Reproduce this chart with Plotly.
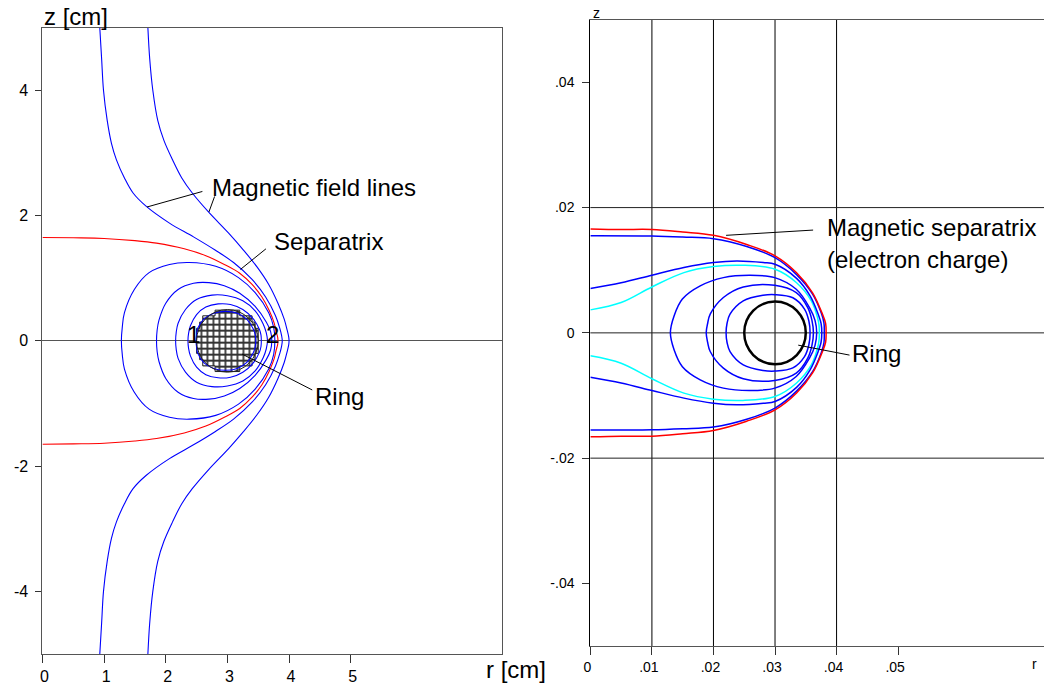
import plotly.graph_objects as go

# ---------------- Left panel data (r, z in cm); upper halves, lower half is the mirror image ----------------
sep_r = [0, 0.5, 1.0, 1.5, 1.85, 2.3, 2.65, 2.95, 3.2, 3.4, 3.56, 3.68, 3.76, 3.79, 3.815, 3.82]
sep_z = [1.65, 1.645, 1.635, 1.6, 1.56, 1.47, 1.36, 1.22, 1.08, 0.9, 0.7, 0.48, 0.28, 0.15, 0.06, 0]

open1_r = [0.93, 0.96, 0.99, 1.05, 1.12, 1.20, 1.33, 1.47, 1.68, 2.06, 2.45, 2.8, 3.1, 3.4, 3.62, 3.78, 3.85, 3.88, 3.89]
open1_z = [5.0, 4.5, 4.0, 3.52, 3.15, 2.89, 2.6, 2.36, 2.15, 1.88, 1.66, 1.45, 1.25, 0.98, 0.7, 0.4, 0.2, 0.08, 0]

open2_r = [1.71, 1.74, 1.79, 1.87, 1.97, 2.11, 2.26, 2.43, 2.70, 3.02, 3.26, 3.48, 3.67, 3.82, 3.92, 3.97, 3.995, 4.0]
open2_z = [5.0, 4.5, 4.0, 3.52, 3.2, 2.89, 2.6, 2.36, 2.05, 1.72, 1.45, 1.18, 0.9, 0.6, 0.35, 0.17, 0.06, 0]

loopA_r = [1.28, 1.295, 1.33, 1.49, 1.73, 2.06, 2.38, 2.81, 3.18, 3.45, 3.67, 3.75, 3.77]
loopA_z = [0, 0.22, 0.45, 0.82, 1.09, 1.22, 1.25, 1.19, 1.01, 0.77, 0.45, 0.22, 0]
loopB_r = [1.85, 1.86, 1.89, 2.0, 2.2, 2.45, 2.7, 2.95, 3.2, 3.45, 3.63, 3.70, 3.72]
loopB_z = [0, 0.17, 0.33, 0.6, 0.82, 0.92, 0.93, 0.88, 0.76, 0.55, 0.3, 0.15, 0]
loopC_r = [2.16, 2.17, 2.2, 2.32, 2.5, 2.75, 3.0, 3.25, 3.45, 3.58, 3.63, 3.65]
loopC_z = [0, 0.14, 0.28, 0.5, 0.66, 0.73, 0.72, 0.64, 0.48, 0.27, 0.13, 0]
loopD_r = [2.36, 2.37, 2.4, 2.5, 2.65, 2.85, 3.05, 3.25, 3.42, 3.52, 3.545, 3.55]
loopD_z = [0, 0.12, 0.24, 0.42, 0.54, 0.59, 0.58, 0.5, 0.35, 0.18, 0.09, 0]
loopE_r = [2.49, 2.50, 2.52, 2.62, 2.78, 2.97, 3.16, 3.32, 3.42, 3.45, 3.46]
loopE_z = [0, 0.1, 0.2, 0.35, 0.44, 0.47, 0.44, 0.34, 0.19, 0.1, 0]

# stepped outline of the meshed ring cross-section (upper half)
disk_r = [3.5, 3.5, 3.45, 3.45, 3.4, 3.4, 3.2, 3.2, 2.8, 2.8, 2.6, 2.6, 2.55, 2.55, 2.5, 2.5]
disk_z = [0, 0.2, 0.2, 0.3, 0.3, 0.4, 0.4, 0.49, 0.49, 0.4, 0.4, 0.3, 0.3, 0.2, 0.2, 0]
ring_center_r, ring_radius = 3.0, 0.5

left_xticks = [0, 1, 2, 3, 4, 5]
left_yticks = [-4, -2, 0, 2, 4]
left_yticktext = ["-4", "-2", "0", "2", "4"]

# ---------------- Right panel data (r, z in m); upper halves ----------------
red2_r = [0, 0.005, 0.01, 0.015, 0.02, 0.0254, 0.03, 0.0335, 0.0361, 0.0377, 0.03822, 0.0383]
red2_z = [0.0166, 0.0165, 0.0165, 0.0161, 0.01557, 0.0141, 0.0123, 0.0096, 0.0064, 0.003, 0.0015, 0]
s2_r = [0, 0.01, 0.015, 0.02, 0.0254, 0.03, 0.0335, 0.0361, 0.0375, 0.03795, 0.0380]
s2_z = [0.01552, 0.01547, 0.0153, 0.01504, 0.0138, 0.0120, 0.0093, 0.0062, 0.0032, 0.0016, 0]
b1_r = [0, 0.005, 0.01, 0.0152, 0.02, 0.0238, 0.0281, 0.03, 0.0335, 0.0357, 0.0370, 0.03748, 0.0376]
b1_z = [0.0071, 0.0080, 0.0092, 0.01042, 0.01122, 0.01147, 0.01122, 0.01095, 0.0087, 0.0059, 0.003, 0.0015, 0]
cyan_r = [0, 0.005, 0.01, 0.0152, 0.02, 0.0248, 0.03, 0.0335, 0.0359, 0.0369, 0.03715, 0.0372]
cyan_z = [0.00367, 0.00484, 0.00733, 0.00962, 0.01058, 0.01079, 0.01015, 0.0080, 0.0051, 0.00245, 0.0012, 0]
L2_r = [0.0130, 0.0136, 0.01495, 0.01785, 0.02161, 0.02592, 0.02995, 0.03345, 0.0356, 0.0365, 0.03677]
L2_z = [0, 0.0027, 0.0054, 0.0075, 0.00882, 0.0092, 0.00882, 0.00696, 0.00404, 0.002, 0]
L3_r = [0.01882, 0.01905, 0.01947, 0.02161, 0.02484, 0.02995, 0.03345, 0.03532, 0.0360, 0.03624]
L3_z = [0, 0.0015, 0.00298, 0.00564, 0.00733, 0.0076, 0.00643, 0.00404, 0.002, 0]
L4_r = [0.02205, 0.0222, 0.02269, 0.02484, 0.02806, 0.03, 0.0329, 0.03479, 0.0355, 0.0357]
L4_z = [0, 0.0015, 0.00298, 0.0051, 0.006, 0.0061, 0.0056, 0.0038, 0.0019, 0]
ring2_r, ring2_radius = 0.03, 0.005

right_xticks = [0, 0.01, 0.02, 0.03, 0.04, 0.05]
right_xticktext = ["0", ".01", ".02", ".03", ".04", ".05"]
right_yticks = [-0.04, -0.02, 0, 0.02, 0.04]
right_yticktext = ["-.04", "-.02", "0", ".02", ".04"]
right_grid_r = [0.01, 0.02, 0.03, 0.04]
right_grid_z = [-0.02, 0, 0.02]


def mirror(r, z):
    """append the mirror image (z -> -z) of an upper half curve ending at z=0"""
    rr = list(r) + list(r[::-1][1:])
    zz = list(z) + [-v for v in z[::-1][1:]]
    return rr, zz


FONT = "Liberation Sans, Arial, Helvetica, sans-serif"
BLUE = "#0000ff"
fig = go.Figure()


def add_curve(r, z, color, width, xa="x", ya="y"):
    rr, zz = mirror(r, z)
    fig.add_trace(go.Scatter(x=rr, y=zz, mode="lines", xaxis=xa, yaxis=ya,
                             line=dict(color=color, width=width, shape="spline", smoothing=1.0),
                             hoverinfo="skip"))


# left panel disk (meshed)
dr, dz = mirror(disk_r, disk_z)
fig.add_trace(go.Scatter(x=dr, y=dz, mode="lines", fill="toself", xaxis="x", yaxis="y",
                         line=dict(color="#222", width=1),
                         fillcolor="white",
                         fillpattern=dict(shape="+", size=6, solidity=0.5, fgcolor="#333",
                                          bgcolor="white", fgopacity=1),
                         hoverinfo="skip"))

for r, z in [(loopA_r, loopA_z), (loopB_r, loopB_z), (loopC_r, loopC_z), (loopD_r, loopD_z), (loopE_r, loopE_z)]:
    add_curve(r, z, BLUE, 1.1)
add_curve(sep_r, sep_z, "#ff0000", 1.1)
add_curve(open1_r, open1_z, BLUE, 1.1)
add_curve(open2_r, open2_z, BLUE, 1.1)

# right panel
for r, z in [(L4_r, L4_z), (L3_r, L3_z), (L2_r, L2_z)]:
    add_curve(r, z, BLUE, 1.5, "x2", "y2")
add_curve(cyan_r, cyan_z, "#00ffff", 1.5, "x2", "y2")
add_curve(b1_r, b1_z, BLUE, 1.5, "x2", "y2")
add_curve(s2_r, s2_z, BLUE, 1.5, "x2", "y2")
add_curve(red2_r, red2_z, "#ff0000", 1.5, "x2", "y2")

shapes = []
# disk outline circle (left)
shapes.append(dict(type="circle", xref="x", yref="y",
                   x0=ring_center_r - ring_radius, x1=ring_center_r + ring_radius,
                   y0=-ring_radius, y1=ring_radius, line=dict(color="#222", width=1)))
# ring (right)
shapes.append(dict(type="circle", xref="x2", yref="y2",
                   x0=ring2_r - ring2_radius, x1=ring2_r + ring2_radius,
                   y0=-ring2_radius, y1=ring2_radius, line=dict(color="black", width=2.5)))
# grid of right panel
for g in right_grid_r:
    shapes.append(dict(type="line", xref="x2", yref="y2 domain", x0=g, x1=g, y0=0, y1=1,
                       line=dict(color="black", width=1), layer="below"))
for g in right_grid_z:
    shapes.append(dict(type="line", xref="x2 domain", yref="y2", x0=0, x1=1, y0=g, y1=g,
                       line=dict(color="#222", width=1), layer="below"))

# leader lines (annotation pointers)
leaders_left = [((2.594, 2.385), (1.696, 2.137)), ((2.792, 2.305), (2.70, 2.057)),
                ((3.625, 1.469), (3.211, 1.14)), ((4.376, -0.784), (3.238, -0.211))]
for (a, b) in leaders_left:
    shapes.append(dict(type="line", xref="x", yref="y", x0=a[0], y0=a[1], x1=b[0], y1=b[1],
                       line=dict(color="black", width=1)))
leaders_right = [((0.03619, 0.01641), (0.02205, 0.01557)), ((0.0421, -0.00355), (0.03377, -0.00196))]
for (a, b) in leaders_right:
    shapes.append(dict(type="line", xref="x2", yref="y2", x0=a[0], y0=a[1], x1=b[0], y1=b[1],
                       line=dict(color="black", width=1)))

ann = []


def txt(x, y, s, size, xref, yref, xanchor="left"):
    ann.append(dict(x=x, y=y, xref=xref, yref=yref, text=s, showarrow=False,
                    xanchor=xanchor, yanchor="middle", font=dict(family=FONT, size=size, color="black")))


txt(2.71, 2.444, "Magnetic field lines", 24, "x", "y")
txt(3.72, 1.59, "Separatrix", 24, "x", "y")
txt(4.39, -0.895, "Ring", 24, "x", "y")
txt(2.455, 0.10, "1", 24, "x", "y", "center")
txt(3.734, 0.10, "2", 24, "x", "y", "center")
txt(0.03806, 0.0168, "Magnetic separatrix", 24, "x2", "y2")
txt(0.03806, 0.01174, "(electron charge)", 24, "x2", "y2")
txt(0.04226, -0.00324, "Ring", 24, "x2", "y2")
# axis titles
txt(35 / 1044, 1 - 17 / 685, "z [cm]", 24, "paper", "paper")
txt(480 / 1044, 1 - 670 / 685, "r [cm]", 24, "paper", "paper")
txt(588 / 1044, 1 - 13 / 685, "z", 14, "paper", "paper")
txt(1030 / 1044, 1 - 665 / 685, "r", 14, "paper", "paper")

axis_common = dict(showgrid=False, ticks="outside", tickcolor="#333", showline=True,
                   linecolor="#555", linewidth=1.2, tickfont=dict(family=FONT, size=16, color="black"),
                   fixedrange=True)

fig.update_layout(
    width=1044, height=685, margin=dict(l=0, r=0, t=0, b=0),
    paper_bgcolor="white", plot_bgcolor="white", showlegend=False,
    shapes=shapes, annotations=ann,
    xaxis=dict(axis_common, domain=[35.7 / 1044, 498.7 / 1044], range=[0, 7.46], anchor="y",
               tickvals=left_xticks, ticklen=8, mirror=True, zeroline=False, ticklabelshift=2),
    yaxis=dict(axis_common, domain=[1 - 655 / 685, 1 - 27.7 / 685], range=[-5, 5], anchor="x",
               tickvals=left_yticks, ticktext=left_yticktext, ticklen=6, mirror=True, zeroline=True,
               zerolinecolor="#555", zerolinewidth=1.2, ticklabelstandoff=4),
    xaxis2=dict(axis_common, domain=[587.3 / 1044, 1.0], range=[0, 0.0737], anchor="y2",
                tickvals=right_xticks, ticktext=right_xticktext, ticklen=8, mirror=True, zeroline=False,
                ticklabelshift=-3, tickfont=dict(family=FONT, size=14, color="black")),
    yaxis2=dict(axis_common, domain=[1 - 647 / 685, 1 - 19.7 / 685], range=[-0.05, 0.05], anchor="x2",
                tickvals=right_yticks, ticktext=right_yticktext, ticklen=7, mirror=False, zeroline=False,
                linecolor="black", ticklabelstandoff=5, tickfont=dict(family=FONT, size=14, color="black")),
)

fig.write_html("out.html", config={"displayModeBar": False},
               post_script="document.body.style.margin='0';")
